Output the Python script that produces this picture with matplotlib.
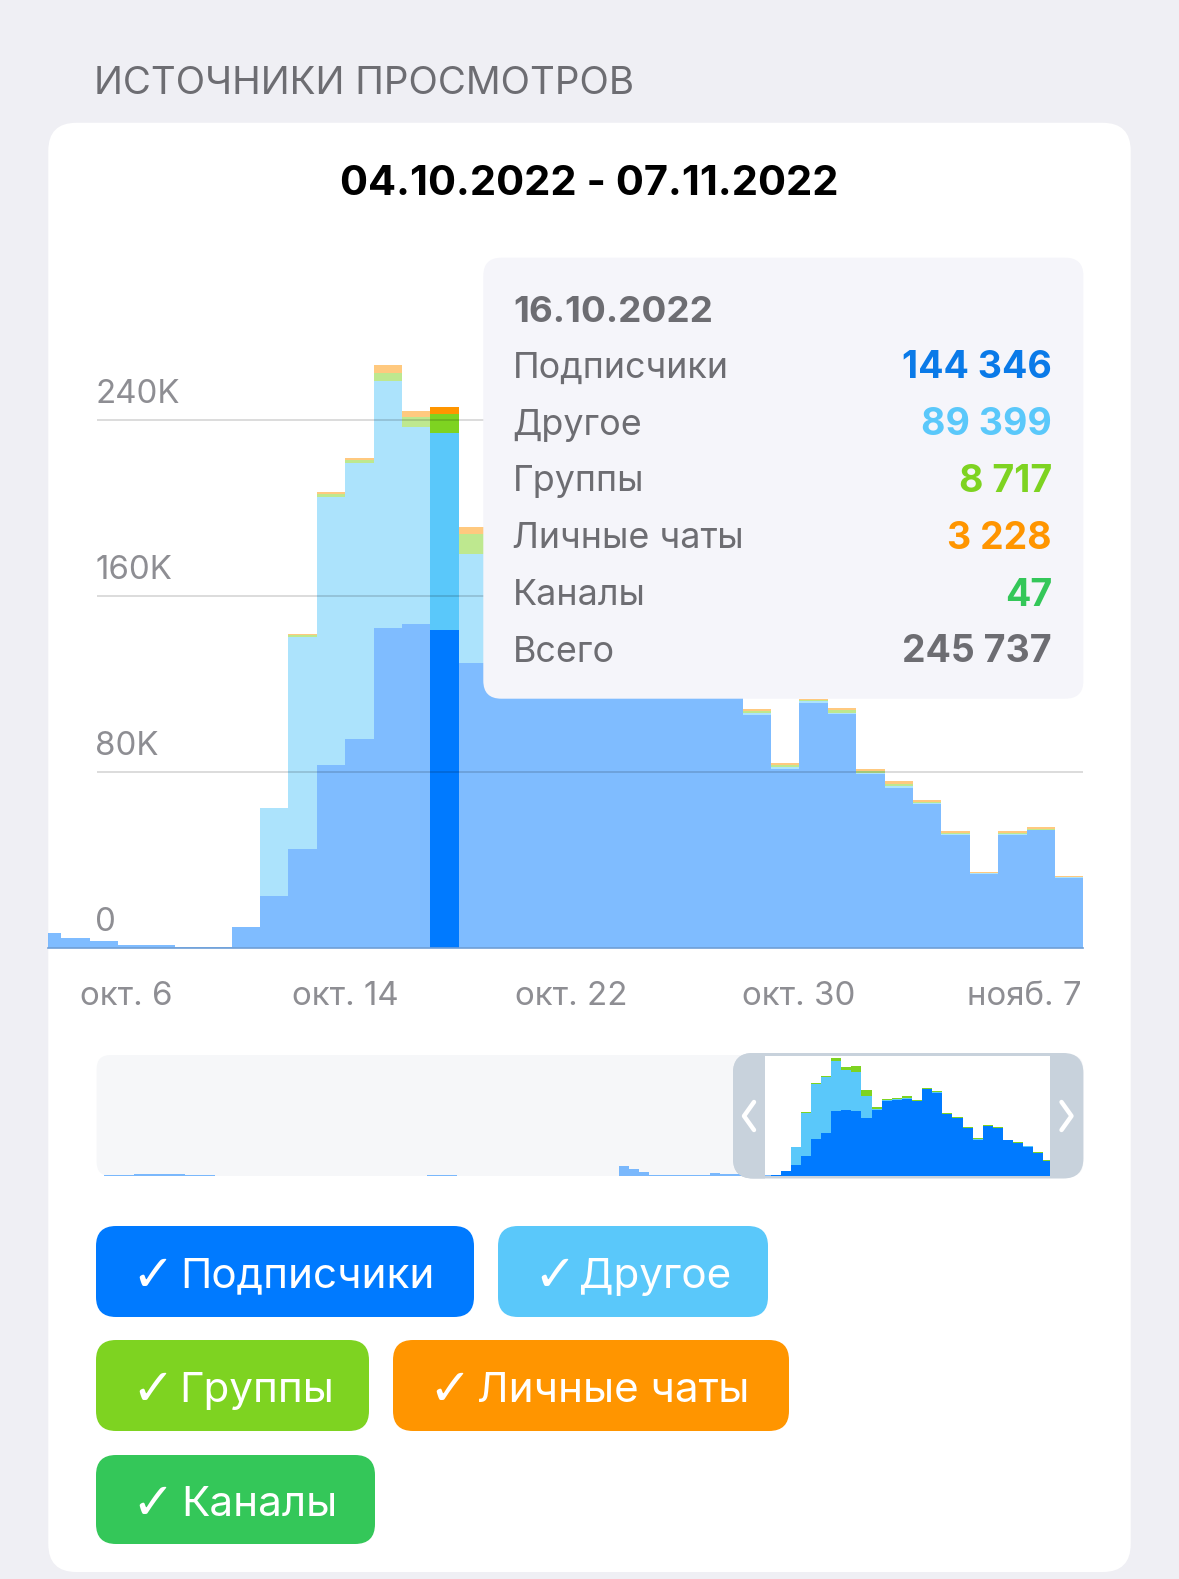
import matplotlib
matplotlib.use("Agg")
import matplotlib.pyplot as plt
from matplotlib.patches import FancyBboxPatch, Rectangle

plt.rcParams['font.family'] = ['Inter', 'Roboto', 'DejaVu Sans']

# ---------- data (thousands of views per day) ----------
days = list(range(2, 39))   # 2 = Oct 2 ... 38 = Nov 7
subs = [6.7, 4.5, 3.1, 1.0, 1.0, 0.5, 0.3, 9.4, 23.6, 44.8, 82.9, 94.8, 145.5, 147.3, 144.346, 129.5,
        147.5, 168.4, 170.0, 172.9, 166.9, 193.9, 186.4, 137.7, 128.8, 105.8, 81.0, 111.4, 106.0,
        79.0, 72.7, 65.2, 51.4, 33.5, 51.4, 53.3, 31.7]
other = [0, 0, 0, 0, 0, 0, 0, 0, 39.7, 96.6, 121.8, 125.7, 111.9, 89.4, 89.399, 49.3,
         1.5, 1.5, 1.5, 2.0, 0.8, 0.8, 0.8, 0.8, 0.8, 0.8, 0.9, 0.8, 0.8,
         0.5, 0.6, 0.4, 0.4, 0.2, 0.4, 0.3, 0.2]
groups = [0, 0, 0, 0, 0, 0, 0, 0, 0, 0.5, 1.5, 1.0, 3.8, 4.5, 8.717, 9.0,
          3.0, 2.0, 2.7, 3.3, 1.4, 1.4, 2.0, 1.3, 1.3, 0.9, 1.0, 0.5, 1.2,
          0.6, 1.0, 0.6, 0.5, 0.3, 0.5, 0.5, 0.3]
personal = [0, 0, 0, 0, 0, 0, 0, 0, 0, 0.6, 1.0, 1.2, 3.8, 2.7, 3.228, 3.4,
            1.5, 1.0, 1.0, 1.5, 0.8, 0.8, 0.9, 0.9, 0.9, 1.0, 1.0, 0.3, 1.0,
            0.9, 1.5, 0.9, 0.9, 0.4, 0.9, 0.7, 0.4]
channels = [0.0] * 14 + [0.047] + [0.0] * 22
selected_day = 16

history_days = list(range(-58, 2))
history_subs = [1, 1, 1, 3.7, 3.7, 3.5, 3.5, 2.5, 1.5, 1, 0.5, 0.2, 0, 0, 0, 0, 0, 0, 0, 0,
                0, 0, 0, 0, 0, 0, 0, 0, 0, 0, 0, 0, 0.6, 0.6, 0.6, 0, 0, 0, 0, 0,
                0, 0, 0, 0, 0, 0, 0, 0, 0, 0, 0, 21.7, 14.2, 7.5, 1.5, 1.0, 0.6, 0.5, 0.5, 0.5]

y_ticks = [0, 80, 160, 240]
y_tick_labels = ['0', '80K', '160K', '240K']
x_tick_days = [5.27, 13.0, 20.97, 28.97, 36.93]
x_tick_labels = ['окт. 6', 'окт. 14', 'окт. 22', 'окт. 30', 'нояб. 7']

series = [('Подписчики', subs, '#007AFF'), ('Другое', other, '#5AC8FA'), ('Группы', groups, '#7ED321'),
          ('Личные чаты', personal, '#FF9500'), ('Каналы', channels, '#34C759')]
mini_series = [('Подписчики', subs, '#007AFF'), ('Другое', other, '#5AC8FA'), ('Группы', groups, '#7ED321'),
               ('Личные чаты', personal, '#7ED321')]

tooltip_date = '16.10.2022'
tooltip_rows = [('Подписчики', '144 346', '#0A7AE8'), ('Другое', '89 399', '#5AC8FA'),
                ('Группы', '8 717', '#7ED321'), ('Личные чаты', '3 228', '#FF9500'),
                ('Каналы', '47', '#34C759'), ('Всего', '245 737', '#6D6D72')]
chips = [('Подписчики', '#007AFF', 96, 474, 1226, 1317, 180), ('Другое', '#5AC8FA', 498, 768, 1226, 1317, 579),
         ('Группы', '#7ED321', 96, 369, 1340, 1431, 179), ('Личные чаты', '#FF9500', 393, 789, 1340, 1431, 477),
         ('Каналы', '#34C759', 96, 375, 1455, 1544, 181)]

W, H = 1179, 1579
fig = plt.figure(figsize=(W / 100, H / 100), dpi=100, facecolor='#EFEFF4')


def px_axes(zorder):
    a = fig.add_axes([0, 0, 1, 1], zorder=zorder)
    a.set_xlim(0, W)
    a.set_ylim(H, 0)
    a.axis('off')
    a.patch.set_alpha(0)
    return a


def rbox(a, x0, x1, y0, y1, r, color, **kw):
    p = FancyBboxPatch((x0 + r, y0 + r), x1 - x0 - 2 * r, y1 - y0 - 2 * r,
                       boxstyle=f'round,pad={r},rounding_size={r}', fc=color, ec='none', **kw)
    a.add_patch(p)
    return p


def rect_axes(x0, x1, y0, y1, zorder):
    a = fig.add_axes([x0 / W, 1 - y1 / H, (x1 - x0) / W, (y1 - y0) / H], zorder=zorder)
    a.patch.set_alpha(0)
    return a


# ---------- background layer ----------
back = px_axes(0)
back.text(93.5, 84, 'ИСТОЧНИКИ ПРОСМОТРОВ', fontsize=27.7, color='#6D6D72', va='center', ha='left')
rbox(back, 48.3, 1130.7, 122.8, 1572, 28, 'white')
back.text(589, 184, '04.10.2022 - 07.11.2022', fontsize=30, fontweight='bold', color='black', va='center', ha='center')

# minimap background and window
rbox(back, 96.6, 1083.4, 1055, 1176, 14, '#F6F7F9')
rbox(back, 733, 1083.4, 1053, 1178.5, 20, '#C8D2DC')
back.add_patch(Rectangle((765, 1055.5), 285, 120, fc='white', ec='none'))

# ---------- main chart ----------
base_y, top_y = 947.6, 250.0
px_per_k = 2.2
ax = rect_axes(48.3, 1083.4, top_y, base_y, 2)
ax.set_xlim(2.54, 39.0)
ax.set_ylim(0, (base_y - top_y) / px_per_k)
bottom = [0.0] * len(days)
for name, vals, col in series:
    bars = ax.bar(days, vals, width=1.0, align='edge', bottom=bottom, color=col, linewidth=0, zorder=2)
    for b, d in zip(bars, days):
        b.set_alpha(1.0 if d == selected_day else 0.5)
    bottom = [s + v for s, v in zip(bottom, vals)]

for v, lab in zip(y_ticks, y_tick_labels):
    if v > 0:
        ax.hlines(v, 4.24, 39.0, color='black', alpha=0.14, lw=1.4, zorder=3)
    ax.annotate(lab, xy=(4.2, v), xytext=(0, 7), textcoords='offset points', fontsize=23.8,
                color='#8E8E93', va='bottom', ha='left', zorder=4)
for s in ['top', 'left', 'right']:
    ax.spines[s].set_visible(False)
ax.spines['bottom'].set_color('#6F9ED6')
ax.spines['bottom'].set_linewidth(1.2)
ax.set_yticks([])
ax.set_xticks(x_tick_days)
ax.set_xticklabels(x_tick_labels, fontsize=23.8, color='#8E8E93')
ax.tick_params(axis='x', length=0, pad=24)

# ---------- minimap ----------
mini_base = 1175.6
k_per_px = 2.246
mini = rect_axes(96.6, 1050, 1055.5, mini_base, 2)
mini.set_xlim(-58.7, 35.66)
mini.set_ylim(0, (mini_base - 1055.5) * k_per_px)
mini.axis('off')
mini.bar(history_days, history_subs, width=1.0, align='edge', color='#007AFF', alpha=0.5, linewidth=0)
mbottom = [0.0] * len(days)
for name, vals, col in mini_series:
    bars = mini.bar(days, vals, width=1.0, align='edge', bottom=mbottom, color=col, linewidth=0)
    for b, d in zip(bars, days):
        b.set_alpha(1.0 if d >= 8 else 0.5)
    mbottom = [s + v for s, v in zip(mbottom, vals)]

# ---------- overlay ----------
top = px_axes(5)
# tooltip
rbox(top, 483.3, 1083.4, 257.7, 698.7, 18, '#F5F5FA')
top.text(513, 313, tooltip_date, fontsize=26.5, fontweight='bold', color='#6D6D72', va='center', ha='left')
row_y = [368, 425, 482, 539, 595.5, 652]
for (lab, val, col), y in zip(tooltip_rows, row_y):
    top.text(512.5, y, lab, fontsize=25.8, color='#6D6D72', va='center', ha='left')
    top.text(1052, y, val, fontsize=27, fontweight='bold', color=col, va='center', ha='right')

# left handle over history bars
lh = rbox(top, 733, 1083.4, 1053, 1178.5, 20, '#C8D2DC')
lh.set_clip_path(Rectangle((733, 1053), 32, 126, transform=top.transData))
for x, sgn in [(749, -1), (1066.5, 1)]:
    top.plot([x - sgn * 5, x + sgn * 5, x - sgn * 5], [1102, 1116, 1130], color='white', lw=3.2,
             solid_capstyle='round', solid_joinstyle='round')

# filter chips
for name, col, x0, x1, y0, y1, tx in chips:
    rbox(top, x0, x1, y0, y1, 20, col)
    ym = (y0 + y1) / 2
    top.text(x0 + 35, ym + 5, '✓', fontsize=37, color='white', va='center', ha='left', family='DejaVu Sans')
    top.text(tx, ym + 5, name, fontsize=30.4, color='white', va='center', ha='left')

fig.savefig('out.png', dpi=100, facecolor=fig.get_facecolor())
